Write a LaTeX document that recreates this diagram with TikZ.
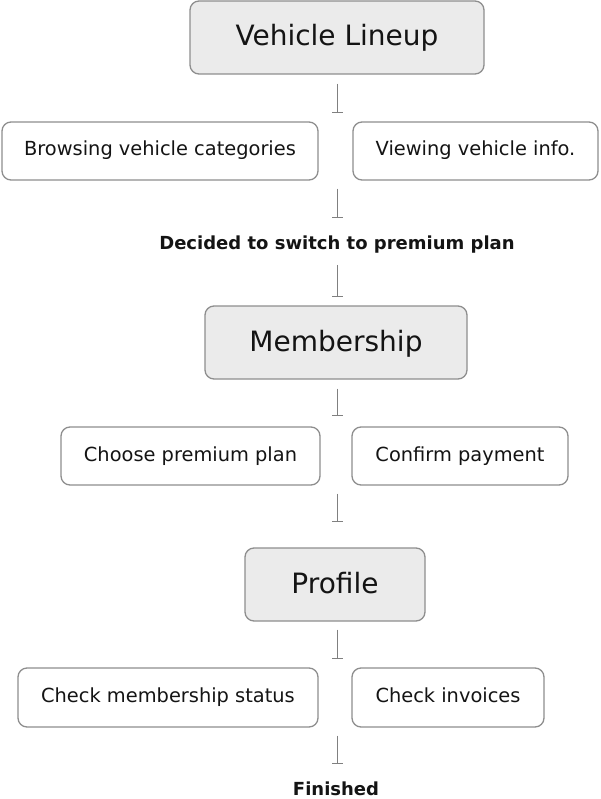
\documentclass[tikz,border=0pt]{standalone}
\usepackage{fontspec}
\setmainfont{DejaVu Sans}
\usetikzlibrary{arrows.meta,calc}
\definecolor{boxline}{HTML}{8E8E8E}
\definecolor{boxfill}{HTML}{EBEBEB}
\definecolor{connline}{HTML}{808080}
\definecolor{txt}{HTML}{141414}
\begin{document}
\begin{tikzpicture}[x=1pt,y=-1pt,
  every node/.style={text=txt},
  mainbox/.style={draw=boxline, line width=1.3pt, fill=boxfill, rounded corners=9pt, font=\fontsize{28}{32}\selectfont, inner sep=0pt, text height=22pt, text depth=5pt},
  subbox/.style={draw=boxline, line width=1.3pt, fill=white, rounded corners=9pt, font=\fontsize{19.4}{23}\selectfont, inner sep=0pt, text height=14pt, text depth=4pt},
  milestone/.style={font=\bfseries\fontsize{18}{22}\selectfont, inner sep=0pt, anchor=base},
  conn/.style={draw=connline, line width=1pt, -{Bar[width=11pt,line width=1pt]}}
]
\useasboundingbox (0,0) rectangle (600,799);
\node[mainbox, minimum width=294pt, minimum height=73pt] (vl) at (337,37.5) {Vehicle Lineup};
\node[subbox, minimum width=316pt, minimum height=58pt] (browse) at (160,151) {Browsing vehicle categories};
\node[subbox, minimum width=245pt, minimum height=58pt] (view) at (475.5,151) {Viewing vehicle info.};
\node[milestone] (decided) at (337,250) {Decided to switch to premium plan};
\node[mainbox, minimum width=262pt, minimum height=73pt] (mem) at (336,342.5) {Membership};
\node[subbox, minimum width=259pt, minimum height=58pt] (choose) at (190.5,456) {Choose premium plan};
\node[subbox, minimum width=216pt, minimum height=58pt] (confirm) at (460,456) {Confirm payment};
\node[mainbox, minimum width=180pt, minimum height=73pt] (prof) at (335,584.5) {Profile};
\node[subbox, minimum width=300pt, minimum height=59pt] (status) at (168,697.5) {Check membership status};
\node[subbox, minimum width=192pt, minimum height=59pt] (inv) at (448,697.5) {Check invoices};
\node[milestone] (fin) at (336,795.5) {Finished};

\draw[conn, shorten <=9pt, shorten >=8pt] (vl.south) -- (vl.south |- browse.north);
\draw[conn, shorten <=8pt, shorten >=18pt] (vl.south |- browse.south) -- (vl.south |- decided.north);
\draw[conn, shorten <=11pt, shorten >=8pt] (vl.south |- decided.south) -- (vl.south |- mem.north);
\draw[conn, shorten <=9pt, shorten >=10pt] (vl.south |- mem.south) -- (vl.south |- choose.north);
\draw[conn, shorten <=8pt, shorten >=25pt] (vl.south |- choose.south) -- (vl.south |- prof.north);
\draw[conn, shorten <=8pt, shorten >=8pt] (vl.south |- prof.south) -- (vl.south |- status.north);
\draw[conn, shorten <=8pt, shorten >=18pt] (vl.south |- status.south) -- (vl.south |- fin.north);
\end{tikzpicture}
\end{document}
